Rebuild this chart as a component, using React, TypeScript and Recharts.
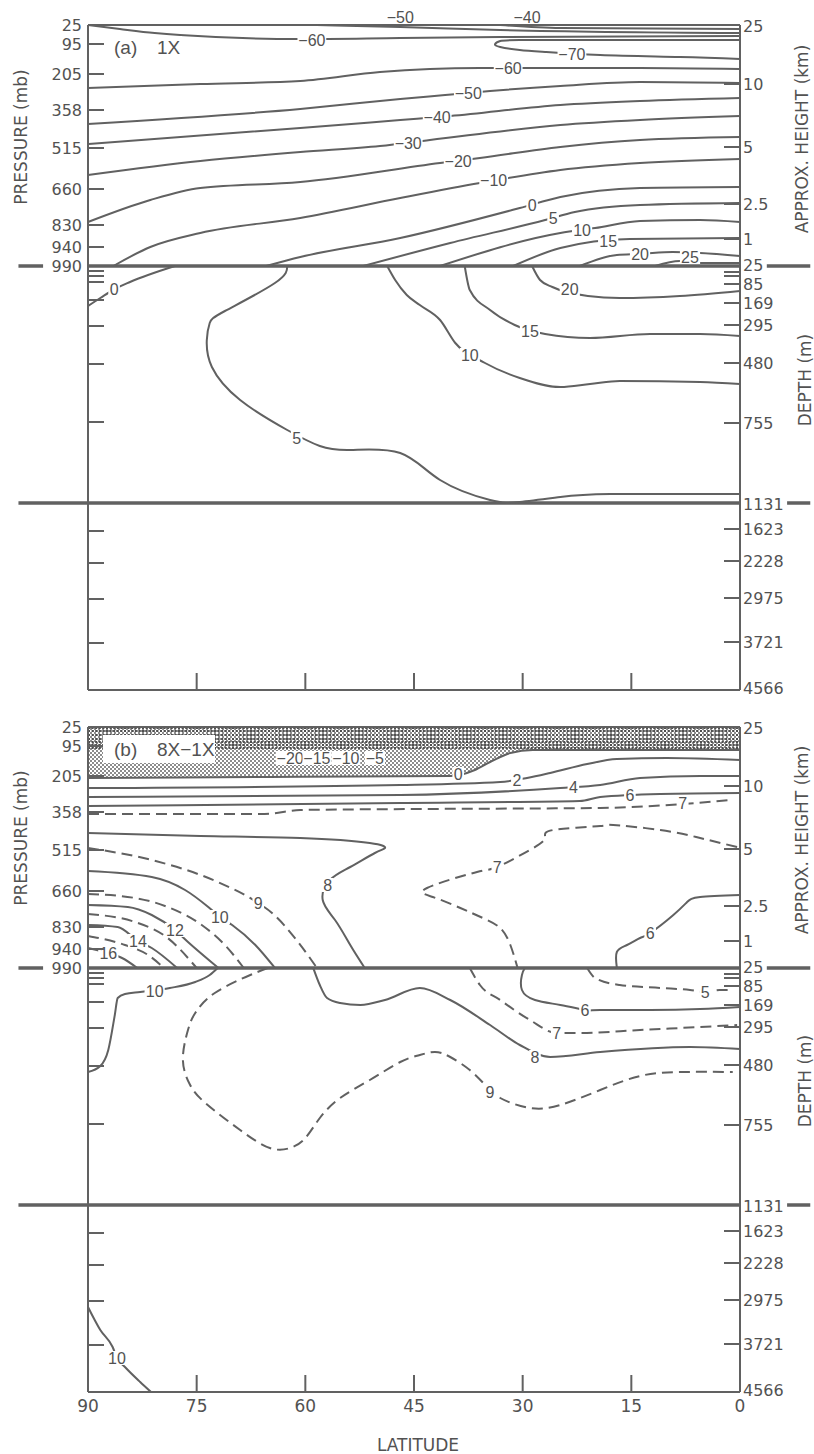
import React from 'react'
import { ComposedChart, Line, Area, XAxis, YAxis, ReferenceLine, ReferenceDot } from 'recharts'

type Pt = [number, number]
type Tag = [string, number, number]

const INK = '#616161'
const TEXT = '#525252'
const AXIS_FONT = "'DejaVu Sans', 'Liberation Sans', sans-serif"
const TAG_FONT = "'Liberation Sans', Arial, sans-serif"
const PLOT_W = 652

// latitude axis
const latTicks = [90, 75, 60, 45, 30, 15, 0]

// vertical coordinate: stretched level position, 0 = top (25 mb), 665 = bottom (4566 m)
const pressureLabels = ['25', '95', '205', '358', '515', '660', '830', '940', '990']
const pressureLevels = [0, 19, 49, 85, 123, 164, 200, 222, 241]
const heightLabels = ['25', '10', '5', '2.5', '1']
const heightLevels = [1, 59, 122, 179, 214]
const depthLabels = ['25', '85', '169', '295', '480', '755', '1131', '1623', '2228', '2975', '3721', '4566']
const depthLevels = [240, 259, 278, 300, 338, 398, 479, 504, 536, 573, 617, 663]
const leftOceanLevels = [246, 251, 257, 275, 301, 339, 397, 506, 538, 574, 618]
const rightExtraLevels = [247, 251]
const AIR_SEA = 241
const DEEP = 478

// ---- (a) 1X : temperature contours [lat, level]
const aMinus40 = [[33.1, 0], [24.8, 3], [0, 4]] as Pt[]
const aMinus50Top = [[58.4, 0], [46.9, 2], [33.1, 5], [0, 8]] as Pt[]
const aMinus60Top = [[90, 0], [85.6, 4], [80.8, 8], [77.3, 10], [60.7, 14], [46.9, 13], [33.1, 12], [0, 11]] as Pt[]
const aMinus70 = [[0, 15], [19.3, 15], [30.4, 15], [33.1, 16], [33.8, 19], [33.1, 22], [30.4, 25], [26.9, 27], [19.3, 30], [8.3, 32], [0, 34]] as Pt[]
const aMinus60 = [[90, 63], [74.5, 59], [60.7, 56], [49.7, 47], [35.9, 43], [27.6, 43], [13.8, 43], [0, 44]] as Pt[]
const aMinus50 = [[90, 99], [60.7, 84], [46.9, 74], [40.7, 70], [34.5, 66], [24.8, 61], [13.8, 57], [0, 58]] as Pt[]
const aMinus40b = [[90, 119], [60.7, 103], [46.9, 95], [40.0, 91], [24.8, 80], [13.8, 76], [0, 73]] as Pt[]
const aMinus30 = [[90, 150], [74.5, 136], [60.7, 127], [49.7, 121], [42.8, 115], [24.8, 100], [13.8, 95], [0, 91]] as Pt[]
const aMinus20 = [[90, 197], [81.4, 175], [74.5, 163], [60.7, 157], [41.4, 138], [35.9, 133], [24.8, 122], [13.8, 115], [0, 112]] as Pt[]
const aMinus10 = [[86.5, 241], [81.4, 222], [74.5, 208], [60.7, 193], [46.9, 173], [35.9, 158], [24.8, 145], [13.8, 138], [0, 134]] as Pt[]
const aZero = [[65.4, 241], [60.7, 232], [46.9, 213], [30.4, 183], [24.8, 172], [13.8, 163], [0, 162]] as Pt[]
const aFive = [[52.0, 241], [40.0, 218], [26.9, 195], [22.8, 187], [13.8, 180], [0, 178]] as Pt[]
const aTen = [[41.4, 241], [24.8, 208], [20.0, 203], [13.8, 196], [5.5, 195], [0, 197]] as Pt[]
const aFifteen = [[31.3, 241], [24.8, 223], [15.2, 214], [0, 213]] as Pt[]
const aTwenty = [[22.1, 241], [17.0, 230], [13.8, 229], [9.3, 227], [5.5, 228], [0, 231]] as Pt[]
const aTwentyFive = [[11.7, 241], [8.3, 236], [5.5, 238], [0, 238]] as Pt[]
// ocean
const aOcean0 = [[90, 281], [88.3, 273], [86.3, 264], [84.2, 257], [78.0, 241]] as Pt[]
const aOcean5 = [[62.5, 241], [64.2, 258], [71.1, 286], [73.2, 298], [73.6, 315], [72.9, 342], [69.0, 375], [62.5, 405], [58.0, 421], [53.8, 425], [46.9, 428], [41.4, 455], [34.5, 475], [30.4, 477], [24.8, 472], [17.9, 469], [0, 469]] as Pt[]
const aOcean10 = [[48.7, 241], [47.6, 255], [46.0, 270], [44.2, 280], [41.4, 295], [39.3, 318], [35.2, 338], [30.4, 353], [24.8, 362], [20.7, 359], [16.6, 356], [5.5, 357], [0, 359]] as Pt[]
const aOcean15 = [[38.0, 241], [37.3, 265], [34.5, 285], [31.1, 300], [26.9, 309], [20.7, 313], [12.4, 309], [5.5, 309], [0, 311]] as Pt[]
const aOcean20 = [[28.7, 241], [27.6, 255], [25.9, 262], [21.0, 271], [16.6, 273], [8.3, 271], [0, 266]] as Pt[]

const aTags: Tag[] = [
  ['−50', 46.9, -8], ['−40', 29.4, -8], ['−60', 59.1, 15], ['−70', 23.2, 29],
  ['−60', 32.0, 43], ['−50', 37.5, 68], ['−40', 41.8, 92], ['−30', 45.8, 118],
  ['−20', 38.9, 136], ['−10', 34.0, 155], ['0', 28.7, 180], ['5', 25.8, 193],
  ['10', 21.8, 205], ['15', 18.2, 216], ['20', 13.8, 229], ['25', 6.9, 232],
  ['0', 86.4, 264], ['5', 61.2, 413], ['10', 37.3, 330], ['15', 29.0, 306], ['20', 23.5, 264],
]

// ---- (b) 8X-1X : temperature difference
const bZero = [[90, 51], [65, 50], [40.0, 49], [36.6, 43], [34.5, 35], [31.7, 26], [28.6, 23], [15, 23], [0, 23]] as Pt[]
const bandLevels = [1, 4, 8, 12, 15, 18, 21]
const bTwo = [[90, 61], [46.9, 58], [33.1, 55], [29.4, 51], [26.2, 46], [21.1, 37], [17.0, 32], [10.1, 31], [0, 33]] as Pt[]
const bFour = [[90, 70], [46.9, 68], [24.8, 61], [19.3, 58], [13.8, 51], [5.5, 49], [0, 49]] as Pt[]
const bSix = [[90, 79], [46.9, 76], [22.1, 74], [19.3, 70], [11.0, 67], [0, 66]] as Pt[]
const bSeven = [[90, 87], [65.6, 87], [60.7, 83], [44.2, 82], [19.3, 81], [7.9, 77], [1.4, 73]] as Pt[]
const bEight = [[90, 106], [74.5, 109], [60.7, 111], [51.1, 116], [49.0, 121], [50.4, 126], [53.8, 140], [56.6, 153], [57.6, 173], [55.9, 193], [53.8, 218], [51.8, 241]] as Pt[]
const bNine = [[90, 121], [81.2, 133], [72.1, 155], [66.5, 176], [64.6, 186], [61.0, 215], [58.4, 241]] as Pt[]
const bTen = [[90, 144], [81.2, 150], [76.6, 163], [73.4, 180], [71.8, 190], [70.1, 198], [66.9, 218], [64.2, 241]] as Pt[]
const bEleven = [[90, 167], [83.5, 171], [79.0, 180], [74.3, 198], [71.1, 218], [68.5, 241]] as Pt[]
const bTwelve = [[90, 178], [84.5, 180], [81.2, 188], [78.0, 203], [76.2, 215], [72.0, 241]] as Pt[]
const bThirteen = [[90, 187], [83.5, 195], [79.0, 211], [75.0, 241]] as Pt[]
const bFourteen = [[90, 198], [85.9, 200], [83.1, 214], [81.2, 221], [77.7, 241]] as Pt[]
const bFifteen = [[90, 209], [84.9, 218], [81.7, 228], [79.5, 241]] as Pt[]
const bSixteen = [[90, 221], [87.2, 226], [85.3, 231], [83.2, 241]] as Pt[]
const bSevenMid = [[0.4, 120], [5.5, 111], [11.0, 103], [17.5, 98], [19.3, 99], [25.8, 103], [26.9, 111], [29.0, 123], [33.5, 140], [36.3, 145], [43.2, 161], [42.4, 170], [38.6, 181], [35.5, 191], [33.1, 201], [31.7, 218], [30.7, 241]] as Pt[]
const bSixMid = [[17.0, 241], [17.0, 225], [15.6, 218], [13.8, 211], [12.4, 206], [9.2, 188], [7.3, 175], [5.5, 170], [0, 168]] as Pt[]
// ocean
const bOcean10 = [[90, 345], [88.3, 339], [87.2, 323], [86.3, 288], [85.9, 271], [84.9, 267], [82.8, 265], [78.7, 261], [75.2, 255], [73.2, 248], [72.1, 241]] as Pt[]
const bOcean9 = [[65.2, 241], [67.6, 248], [72.5, 266], [75.2, 286], [76.2, 303], [76.9, 333], [75.9, 358], [73.8, 376], [69.0, 403], [64.9, 421], [62.1, 421], [60.0, 411], [58.0, 391], [55.2, 371], [51.1, 353], [46.9, 335], [44.2, 328], [42.1, 325], [40.0, 330], [37.3, 343], [35.2, 358], [33.1, 371], [29.0, 381], [24.8, 378], [19.3, 363], [13.8, 349], [8.3, 345], [1.0, 345]] as Pt[]
const bOcean8 = [[58.9, 241], [58.0, 258], [57.0, 271], [55.2, 276], [52.4, 278], [49.0, 273], [44.2, 261], [40.0, 273], [34.5, 298], [30.4, 318], [26.2, 330], [19.3, 325], [6.9, 320], [0, 322]] as Pt[]
const bOcean7 = [[37.3, 241], [35.9, 258], [33.1, 273], [29.0, 293], [25.3, 306], [22.1, 306], [13.8, 303], [5.5, 300], [0.4, 298]] as Pt[]
const bOcean6 = [[29.7, 241], [30.1, 248], [30.1, 263], [28.3, 273], [24.8, 278], [21.4, 283], [19.3, 283], [12.4, 283], [5.5, 282], [0, 280]] as Pt[]
const bOcean5 = [[21.1, 241], [20.0, 251], [16.6, 258], [11.0, 261], [6.9, 263], [4.8, 265], [2.8, 263], [1.0, 263]] as Pt[]
const bDeep10 = [[90, 580], [88.3, 603], [86.6, 620], [86.0, 631], [84.9, 640], [82.8, 655], [81.3, 665]] as Pt[]

const bTags: Tag[] = [
  ['−20', 62.1, 31], ['−15', 58.4, 31], ['−10', 54.4, 31], ['−5', 50.4, 31],
  ['0', 38.9, 47], ['2', 30.8, 53], ['4', 23.0, 60], ['6', 15.2, 68], ['7', 7.9, 76],
  ['8', 56.9, 158], ['9', 66.5, 176], ['10', 71.8, 190], ['12', 78.0, 203], ['14', 83.1, 214], ['16', 87.2, 226],
  ['7', 33.5, 140], ['6', 12.4, 206],
  ['10', 80.8, 264], ['9', 34.5, 365], ['8', 28.3, 330], ['7', 25.3, 306], ['6', 21.4, 283], ['5', 4.8, 265],
  ['10', 86.0, 631],
]

// boundary lines reach past the frame on both sides
const airSeaStubs: Pt[] = [[99.6, 96.2], [-3.7, -9.7]]
const deepStubs: Pt[] = [[99.6, 90], [-6.5, -9.7]]

interface Contour { pts: Pt[]; dash?: boolean; smooth?: boolean }

const panelA: Contour[] = [
  { pts: aMinus40 }, { pts: aMinus50Top }, { pts: aMinus60Top }, { pts: aMinus70, smooth: true },
  { pts: aMinus60 }, { pts: aMinus50 }, { pts: aMinus40b }, { pts: aMinus30 }, { pts: aMinus20 },
  { pts: aMinus10 }, { pts: aZero }, { pts: aFive }, { pts: aTen }, { pts: aFifteen },
  { pts: aTwenty }, { pts: aTwentyFive },
  { pts: aOcean0 }, { pts: aOcean5, smooth: true }, { pts: aOcean10 }, { pts: aOcean15 }, { pts: aOcean20 },
]

const panelB: Contour[] = [
  { pts: bZero }, { pts: bTwo }, { pts: bFour }, { pts: bSix }, { pts: bSeven, dash: true },
  { pts: bEight, smooth: true }, { pts: bNine, dash: true }, { pts: bTen }, { pts: bEleven, dash: true },
  { pts: bTwelve }, { pts: bThirteen, dash: true }, { pts: bFourteen }, { pts: bFifteen, dash: true },
  { pts: bSixteen }, { pts: bSevenMid, dash: true, smooth: true }, { pts: bSixMid, smooth: true },
  { pts: bOcean10 }, { pts: bOcean9, dash: true, smooth: true }, { pts: bOcean8 }, { pts: bOcean7, dash: true },
  { pts: bOcean6, smooth: true }, { pts: bOcean5, dash: true }, { pts: bDeep10 },
]

const leftTickLevels = [...pressureLevels, ...leftOceanLevels]
const rightTickLevels = [...heightLevels, ...depthLevels, ...rightExtraLevels]
const allLevels = Array.from(new Set([...leftTickLevels, ...rightTickLevels])).sort((a, b) => a - b)

const toRows = (pts: Pt[]) => pts.map(([lat, z]) => ({ lat, z }))

const axisTxt = { fontFamily: AXIS_FONT, fill: TEXT }
const tagTxt = { fontFamily: TAG_FONT, fill: TEXT }

// one tick renderer draws both the pressure side and the height/depth side
function LevelTick(props: any) {
  const { x, y, payload } = props
  const v = payload.value
  const xr = x + PLOT_W
  const p = pressureLevels.indexOf(v)
  const h = heightLevels.indexOf(v)
  const d = depthLevels.indexOf(v)
  const rightLabel = h >= 0 ? heightLabels[h] : d >= 0 ? depthLabels[d] : null
  const onLeft = leftTickLevels.includes(v)
  const onRight = rightTickLevels.includes(v)
  return (
    <g>
      {onLeft && v !== 0 && v !== AIR_SEA && (
        <line x1={x} x2={x + 16} y1={y} y2={y} stroke={INK} strokeWidth={2} />
      )}
      {p >= 0 && (
        <text x={x - 6} y={y} dy="0.36em" textAnchor="end" fontSize={16} {...axisTxt}>{pressureLabels[p]}</text>
      )}
      {onRight && ![1, 240, 479, 663].includes(v) && (
        <line x1={xr} x2={xr - 16} y1={y} y2={y} stroke={INK} strokeWidth={2} />
      )}
      {rightLabel && (
        <text x={xr + 3} y={y} dy="0.36em" textAnchor="start" fontSize={16} {...axisTxt}>{rightLabel}</text>
      )}
    </g>
  )
}

function BottomTick(props: any) {
  const { x, y, payload, showText } = props
  const v = payload.value
  return (
    <g>
      {v !== 0 && v !== 90 && <line x1={x} x2={x} y1={y} y2={y - 17} stroke={INK} strokeWidth={2} />}
      {showText && (
        <text x={x} y={y + 14} dy="0.36em" textAnchor="middle" fontSize={17} {...axisTxt}>{v}</text>
      )}
    </g>
  )
}

function DotTag(props: any) {
  const { viewBox, text } = props
  if (!viewBox) return null
  const cx = viewBox.x + viewBox.width / 2
  const cy = viewBox.y + viewBox.height / 2
  const w = text.length * 8.6 + 3
  return (
    <g>
      <rect x={cx - w / 2} y={cy - 7} width={w} height={14} fill="#fff" />
      <text x={cx} y={cy} dy="0.36em" textAnchor="middle" fontSize={16} {...tagTxt}>{text}</text>
    </g>
  )
}

function Panel(p: { top: number; height: number; bottom: number; contours: Contour[]; tags: Tag[]; shaded?: boolean; showLat?: boolean }) {
  const shade = p.shaded ? bZero.map(([lat, z]) => ({ lat, range: [0, z] })) : null
  return (
    <div style={{ position: 'absolute', left: 0, top: p.top }}>
      <ComposedChart width={814} height={p.height} margin={{ top: 25, right: 14, bottom: p.bottom, left: 28 }}>
        <XAxis
          type="number" dataKey="lat" domain={[0, 90]} reversed ticks={latTicks} interval={0}
          height={30} tickSize={0} tickMargin={0} tickLine={false}
          axisLine={{ stroke: INK, strokeWidth: 2 }}
          tick={(t: any) => <BottomTick {...t} showText={p.showLat} />}
        />
        <YAxis
          yAxisId="l" type="number" domain={[0, 665]} reversed width={60}
          ticks={allLevels} interval={0}
          tickSize={0} tickMargin={0} tickLine={false}
          axisLine={{ stroke: INK, strokeWidth: 2 }} tick={<LevelTick />}
        />
        <YAxis
          yAxisId="r" orientation="right" type="number" domain={[0, 665]} reversed width={60}
          tick={false} tickLine={false} axisLine={{ stroke: INK, strokeWidth: 2 }}
        />
        {shade && (
          <Area
            yAxisId="l" data={shade} dataKey="range" type="monotone" stroke="none"
            fill="url(#stipple)" fillOpacity={1} isAnimationActive={false}
          />
        )}
        {p.shaded && bandLevels.map((z, i) => (
          <Line
            key={'band' + i} yAxisId="l" data={[{ lat: 90, z }, { lat: 0, z }]} dataKey="z" type="linear"
            stroke="#4f4f4f" strokeWidth={2.2} strokeDasharray="2 1.6" dot={false} activeDot={false}
            isAnimationActive={false}
          />
        ))}
        <ReferenceLine yAxisId="l" y={0} stroke={INK} strokeWidth={2} />
        <ReferenceLine yAxisId="l" y={AIR_SEA} stroke={INK} strokeWidth={3.5} />
        <ReferenceLine yAxisId="l" y={DEEP} stroke={INK} strokeWidth={3.5} />
        {airSeaStubs.map(([a, b], i) => (
          <ReferenceLine key={'as' + i} yAxisId="l" ifOverflow="visible" stroke={INK} strokeWidth={3.5}
            segment={[{ x: a, y: AIR_SEA }, { x: b, y: AIR_SEA }]} />
        ))}
        {deepStubs.map(([a, b], i) => (
          <ReferenceLine key={'dp' + i} yAxisId="l" ifOverflow="visible" stroke={INK} strokeWidth={3.5}
            segment={[{ x: a, y: DEEP }, { x: b, y: DEEP }]} />
        ))}
        {p.contours.map((c, i) => (
          <Line
            key={'c' + i} yAxisId="l" data={toRows(c.pts)} dataKey="z"
            type={c.smooth ? 'natural' : 'monotone'} stroke={INK} strokeWidth={2}
            strokeDasharray={c.dash ? '11 6' : undefined}
            dot={false} activeDot={false} isAnimationActive={false}
          />
        ))}
        {p.tags.map(([t, lat, z], i) => (
          <ReferenceDot
            key={'t' + i} yAxisId="l" x={lat} y={z} r={1} fill="none" stroke="none"
            ifOverflow="visible" label={<DotTag text={t} />}
          />
        ))}
      </ComposedChart>
    </div>
  )
}

function Titles() {
  const title = (x: number, y: number, s: string) => (
    <text transform={`translate(${x},${y}) rotate(-90)`} dy="0.36em" textAnchor="middle" fontSize={17} {...axisTxt}>{s}</text>
  )
  return (
    <svg width={814} height={1454} style={{ position: 'absolute', left: 0, top: 0, pointerEvents: 'none' }}>
      {title(21, 137, 'PRESSURE (mb)')}
      {title(802, 139, 'APPROX. HEIGHT (km)')}
      {title(805, 380, 'DEPTH (m)')}
      {title(21, 838, 'PRESSURE (mb)')}
      {title(802, 840, 'APPROX. HEIGHT (km)')}
      {title(805, 1081, 'DEPTH (m)')}
      <rect x={110} y={36} width={72} height={22} fill="#fff" />
      <text x={114} y={47} dy="0.36em" fontSize={19} {...tagTxt}>(a)</text>
      <text x={157} y={47} dy="0.36em" fontSize={19} {...tagTxt}>1X</text>
      <rect x={103} y={735} width={112} height={28} fill="#fff" />
      <text x={114} y={749} dy="0.36em" fontSize={19} {...tagTxt}>(b)</text>
      <text x={157} y={749} dy="0.36em" fontSize={19} {...tagTxt}>8X−1X</text>
      <text x={418} y={1445} dy="0.36em" textAnchor="middle" fontSize={17} {...axisTxt}>LATITUDE</text>
    </svg>
  )
}

export default function App() {
  return (
    <div style={{ position: 'absolute', left: 0, top: 0, width: 814, height: 1454, background: '#fff' }}>
      <svg width={0} height={0} style={{ position: 'absolute' }}>
        <defs>
          <pattern id="stipple" width={4} height={4} patternUnits="userSpaceOnUse">
            <rect width={4} height={4} fill="#ffffff" />
            <rect x={0} y={0} width={2} height={2} fill="#8c8c8c" />
            <rect x={2} y={2} width={2} height={2} fill="#8c8c8c" />
          </pattern>
        </defs>
      </svg>
      <Panel top={0} height={720} bottom={0} contours={panelA} tags={aTags} />
      <Panel top={702} height={752} bottom={32} contours={panelB} tags={bTags} shaded showLat />
      <Titles />
    </div>
  )
}
